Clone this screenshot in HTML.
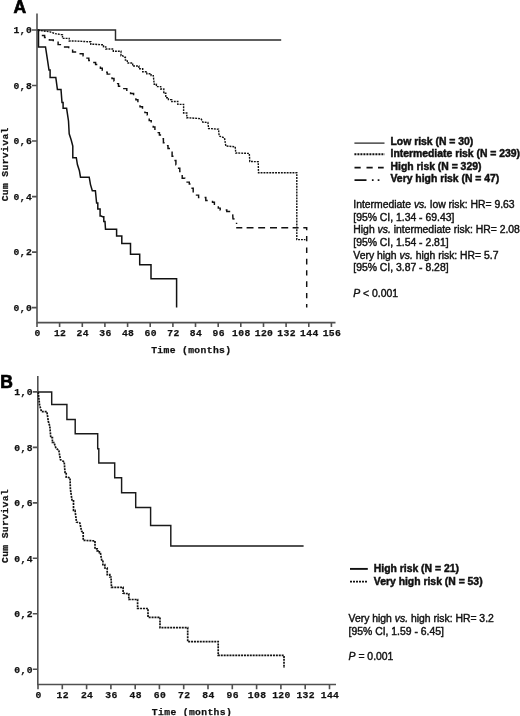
<!DOCTYPE html>
<html><head><meta charset="utf-8"><title>Figure</title>
<style>
html,body{margin:0;padding:0;background:#fff}
svg{display:block}
text{fill:#111}
.mono text{font-family:"Liberation Mono","DejaVu Sans Mono",monospace;font-weight:bold;font-size:9.7px;letter-spacing:0.36px}
.bold text{font-family:"Liberation Sans",Arial,sans-serif;font-weight:bold;font-size:10px}
.reg text{font-family:"Liberation Sans",Arial,sans-serif;font-size:10px}
.it{font-style:italic}
.lbl{font-family:"Liberation Sans",Arial,sans-serif;font-weight:bold;font-size:17.5px;fill:#000;stroke:#000;stroke-width:0.7px}
.bold text{stroke:#111;stroke-width:0.45px}
.reg text{stroke:#111;stroke-width:0.4px}
.mono text{stroke:#111;stroke-width:0.25px}
</style></head><body>
<svg width="520" height="716" viewBox="0 0 520 716">
<rect width="520" height="716" fill="#fff"/>
<g stroke="#505050" stroke-width="1.6" fill="none">
<path d="M37.0 13.6V322.6H335.5"/>
<path d="M32.0 30.0H37.0M32.0 85.5H37.0M32.0 141.0H37.0M32.0 196.6H37.0M32.0 252.1H37.0M32.0 307.6H37.0M37.0 322.6V327.1M59.6 322.6V327.1M82.3 322.6V327.1M104.9 322.6V327.1M127.6 322.6V327.1M150.2 322.6V327.1M172.9 322.6V327.1M195.5 322.6V327.1M218.2 322.6V327.1M240.8 322.6V327.1M263.5 322.6V327.1M286.1 322.6V327.1M308.8 322.6V327.1M331.4 322.6V327.1"/>
</g>
<g class="mono">
<text x="32.1" y="33.2" text-anchor="end">1,0</text>
<text x="32.1" y="88.7" text-anchor="end">0,8</text>
<text x="32.1" y="144.2" text-anchor="end">0,6</text>
<text x="32.1" y="199.8" text-anchor="end">0,4</text>
<text x="32.1" y="255.3" text-anchor="end">0,2</text>
<text x="32.1" y="310.8" text-anchor="end">0,0</text>
<text x="37.5" y="336.1" text-anchor="middle">0</text>
<text x="60.1" y="336.1" text-anchor="middle">12</text>
<text x="82.8" y="336.1" text-anchor="middle">24</text>
<text x="105.4" y="336.1" text-anchor="middle">36</text>
<text x="128.1" y="336.1" text-anchor="middle">48</text>
<text x="150.8" y="336.1" text-anchor="middle">60</text>
<text x="173.4" y="336.1" text-anchor="middle">72</text>
<text x="196.0" y="336.1" text-anchor="middle">84</text>
<text x="218.7" y="336.1" text-anchor="middle">96</text>
<text x="241.3" y="336.1" text-anchor="middle">108</text>
<text x="264.0" y="336.1" text-anchor="middle">120</text>
<text x="286.6" y="336.1" text-anchor="middle">132</text>
<text x="309.3" y="336.1" text-anchor="middle">144</text>
<text x="331.9" y="336.1" text-anchor="middle">156</text>
</g>
<g class="mono">
<text transform="translate(7.5,164.3) rotate(-90)" text-anchor="middle">Cum Survival</text>
<text x="191.3" y="353.3" text-anchor="middle">Time (months)</text>
</g>
<g fill="none" stroke="#111" stroke-linejoin="miter">
<polyline stroke-width="1.45" stroke="#2a2a2a" points="37.5,30.0 115.5,30.0 115.5,40.0 281.2,40.0"/>
<polyline stroke-width="1.5" points="37.5,30.0 38.5,30.0 38.5,47.0 45.5,47.0 47.4,59.4 49.0,70.0 50.1,70.0 50.1,77.5 51.2,77.5 55.8,77.5 57.4,89.4 61.0,89.4 62.0,102.5 63.1,102.5 63.1,108.3 64.3,108.3 66.6,108.3 68.5,121.0 69.2,133.8 71.2,140.0 72.8,146.0 72.8,157.7 76.3,157.7 77.4,164.6 79.4,170.8 80.5,177.2 89.2,177.2 90.5,184.6 92.3,190.8 95.4,190.8 96.6,203.0 97.8,203.0 97.8,209.0 99.0,209.0 100.1,209.0 100.1,216.0 101.2,216.0 102.6,216.7 103.8,216.7 103.8,221.5 105.0,221.5 105.5,229.2 116.6,229.2 116.6,236.0 121.8,236.0 121.8,243.6 130.5,243.6 130.5,254.2 139.7,254.2 139.7,264.8 151.0,264.8 151.0,278.8 176.6,278.8 176.6,307.5"/>
<polyline stroke-width="1.4" stroke-dasharray="1.9 1.0" points="38.0,30.2 49.5,31.7 55.2,33.6 61.0,34.6 62.5,34.6 62.5,38.4 63.9,38.4 69.2,38.4 69.2,41.0 74.5,41.0 88.0,41.7 90.8,41.7 90.8,44.2 93.7,44.2 102.3,44.8 103.5,44.8 103.5,46.9 105.8,46.9 105.8,49.0 107.0,49.0 113.3,49.0 113.3,51.2 119.6,51.2 121.0,51.2 121.0,55.7 122.5,55.7 124.4,57.3 125.4,57.3 125.4,60.1 127.3,60.1 127.3,63.0 128.3,63.0 132.7,63.0 132.7,66.0 137.0,66.0 138.9,66.0 138.9,68.8 142.7,68.8 142.7,71.7 144.6,71.7 146.8,71.7 146.8,73.7 151.1,73.7 151.1,75.6 153.3,75.6 154.2,84.2 156.4,84.2 156.4,86.6 160.7,86.6 160.7,89.0 162.9,89.0 163.8,89.0 163.8,93.3 165.8,93.3 165.8,97.7 166.7,97.7 168.4,97.7 168.4,99.6 171.8,99.6 171.8,101.5 173.5,101.5 177.8,101.5 177.8,104.4 182.1,104.4 183.6,104.4 183.6,113.0 185.0,113.0 186.8,113.0 186.8,117.8 188.6,117.8 201.0,118.7 202.9,122.2 207.9,122.5 208.6,128.5 218.5,129.2 219.2,136.0 224.5,137.9 225.8,146.0 235.2,146.8 235.8,153.0 249.3,153.4 249.8,161.5 258.2,161.7 258.5,172.7 296.8,172.7 296.8,239.6 305.4,239.6"/>
<polyline stroke-width="1.45" stroke-dasharray="6 5.2" stroke-dashoffset="0" points="41.8,35.5 44.6,35.5 44.6,37.5 47.5,37.5 49.4,37.5 49.4,39.9 53.3,39.9 53.3,42.3 55.2,42.3 58.1,42.3 58.1,44.6 63.9,44.6 63.9,47.0 66.8,47.0 68.7,47.0 68.7,49.5 72.6,49.5 72.6,51.9 74.5,51.9 77.4,51.9 77.4,53.8 83.1,53.8 83.1,55.7 86.0,55.7 87.0,55.7 87.0,58.1 88.8,58.1 88.8,60.5 89.8,60.5 91.7,60.5 91.7,62.5 95.6,62.5 95.6,64.4 97.5,64.4 98.5,64.4 98.5,66.3 100.4,66.3 100.4,68.3 102.3,68.3 102.3,70.2 103.3,70.2 104.6,70.2 104.6,72.1 107.2,72.1 107.2,74.1 109.7,74.1 109.7,76.0 111.0,76.0 112.0,76.0 112.0,78.5 112.9,78.5 114.0,78.5 114.0,81.1 116.2,81.1 116.2,83.6 118.5,83.6 118.5,86.2 119.6,86.2 122.0,86.2 122.0,88.6 126.8,88.6 126.8,91.0 129.2,91.0 130.6,91.0 130.6,93.4 133.6,93.4 133.6,95.8 135.0,95.8 135.9,95.8 135.9,99.7 137.9,99.7 137.9,103.5 138.8,103.5 140.0,103.5 140.0,106.8 142.5,106.8 142.5,110.2 143.7,110.2 144.9,110.2 144.9,112.6 147.3,112.6 147.3,115.0 148.5,115.0 149.2,115.0 149.2,120.6 150.0,120.6 151.2,120.6 151.2,123.7 152.3,123.7 153.2,123.7 153.2,126.9 154.9,126.9 154.9,130.2 155.8,130.2 157.0,130.2 157.0,132.6 159.4,132.6 159.4,135.0 160.6,135.0 161.6,135.0 161.6,138.8 163.4,138.8 163.4,142.7 164.4,142.7 165.6,142.7 165.6,145.6 168.0,145.6 168.0,148.5 169.2,148.5 170.1,148.5 170.1,152.3 172.1,152.3 172.1,156.2 173.0,156.2 174.0,156.2 174.0,160.5 175.9,160.5 175.9,164.8 176.9,164.8 177.9,164.8 177.9,168.2 179.8,168.2 179.8,171.5 180.8,171.5 182.2,171.5 182.2,178.3 183.7,178.3 184.8,178.3 184.8,180.2 187.1,180.2 187.1,182.1 189.3,182.1 189.3,184.0 190.4,184.0 191.3,184.0 191.3,188.3 193.2,188.3 193.2,192.7 194.2,192.7 195.6,192.7 195.6,195.1 198.6,195.1 198.6,197.5 200.0,197.5 205.8,197.5 205.8,200.4 211.5,200.4 212.5,200.4 212.5,202.3 214.4,202.3 214.4,204.2 215.4,204.2 216.4,204.2 216.4,206.1 218.3,206.1 218.3,208.1 220.2,208.1 220.2,210.0 221.2,210.0 226.8,210.0 226.8,211.5 232.5,211.5 233.0,218.8 236.3,219.4 236.6,224.0"/>
<path stroke-width="1.45" d="M236.2 227.7H242.3M246.6 227.7H253.5M258.2 227.7H265.1M270 227.7H277M281.3 227.7H288.2M292.6 227.7H298.6M303.3 227.7H306.7V230.3M306.7 236V241.2M306.7 247.6V253M306.7 258.7V264.5M306.7 270.3V275.6M306.7 281.3V287.1M306.7 292.9V298.2M306.7 303.9V307.4"/>
</g>
<g stroke="#505050" stroke-width="1.6" fill="none">
<path d="M37.8 376V684.5H336"/>
<path d="M32.8 391.9H37.8M32.8 447.4H37.8M32.8 502.9H37.8M32.8 558.3H37.8M32.8 613.8H37.8M32.8 669.3H37.8M38.0 684.5V689.3M62.3 684.5V689.3M86.6 684.5V689.3M110.9 684.5V689.3M135.2 684.5V689.3M159.4 684.5V689.3M183.7 684.5V689.3M208.0 684.5V689.3M232.3 684.5V689.3M256.6 684.5V689.3M280.9 684.5V689.3M305.2 684.5V689.3M329.5 684.5V689.3"/>
</g>
<g class="mono">
<text x="32.9" y="395.1" text-anchor="end">1,0</text>
<text x="32.9" y="450.6" text-anchor="end">0,8</text>
<text x="32.9" y="506.1" text-anchor="end">0,6</text>
<text x="32.9" y="561.5" text-anchor="end">0,4</text>
<text x="32.9" y="617.0" text-anchor="end">0,2</text>
<text x="32.9" y="672.5" text-anchor="end">0,0</text>
<text x="38.5" y="698.4" text-anchor="middle">0</text>
<text x="62.8" y="698.4" text-anchor="middle">12</text>
<text x="87.1" y="698.4" text-anchor="middle">24</text>
<text x="111.4" y="698.4" text-anchor="middle">36</text>
<text x="135.7" y="698.4" text-anchor="middle">48</text>
<text x="159.9" y="698.4" text-anchor="middle">60</text>
<text x="184.2" y="698.4" text-anchor="middle">72</text>
<text x="208.5" y="698.4" text-anchor="middle">84</text>
<text x="232.8" y="698.4" text-anchor="middle">96</text>
<text x="257.1" y="698.4" text-anchor="middle">108</text>
<text x="281.4" y="698.4" text-anchor="middle">120</text>
<text x="305.7" y="698.4" text-anchor="middle">132</text>
<text x="330.0" y="698.4" text-anchor="middle">144</text>
</g>
<g class="mono">
<text transform="translate(7.5,526) rotate(-90)" text-anchor="middle">Cum Survival</text>
<text x="192" y="715.2" text-anchor="middle">Time (months)</text>
</g>
<g fill="none" stroke="#111" stroke-linejoin="miter">
<polyline stroke-width="1.45" stroke="#1a1a1a" points="38.0,391.9 51.7,391.9 51.7,404.4 66.9,404.4 66.9,419.4 75.2,419.4 75.2,433.8 97.7,433.8 97.7,448.8 98.8,448.8 98.8,463.0 114.7,463.0 114.7,477.8 121.6,477.8 121.6,492.7 135.7,492.7 135.7,507.5 150.6,507.5 150.6,525.5 170.8,525.5 170.8,546.0 303.6,546.0"/>
<polyline stroke-width="1.7" stroke-dasharray="2 0.9" points="38.2,392.0 39.6,405.0 41.5,411.7 46.9,411.7 48.3,421.3 49.8,426.2 50.8,437.7 52.4,437.7 52.4,442.5 54.0,442.5 56.0,448.3 58.8,450.2 60.4,459.8 64.2,461.7 65.0,472.3 66.2,472.3 66.2,477.1 67.5,477.1 70.0,478.0 70.4,489.2 72.1,500.8 73.5,500.8 73.5,510.4 75.0,510.4 76.5,522.0 79.8,522.9 81.7,531.5 83.2,531.5 83.2,540.4 84.6,540.4 93.8,540.8 95.0,540.8 95.0,548.8 96.2,548.8 97.2,548.8 97.2,550.8 99.4,550.8 99.4,552.7 100.4,552.7 101.9,561.3 102.9,561.3 102.9,564.6 104.8,564.6 104.8,568.0 105.8,568.0 107.2,568.0 107.2,574.6 108.5,574.6 109.8,574.6 109.8,577.0 111.0,577.0 111.5,587.3 123.1,587.3 123.1,593.2 128.8,593.8 128.8,599.5 137.6,599.5 137.6,608.5 148.0,608.5 148.0,617.3 160.0,617.3 160.0,627.7 187.7,627.7 187.7,641.6 218.2,641.6 218.2,655.4 284.0,655.4 284.0,668.0"/>
</g>
<text class="lbl" x="13.5" y="13.3">A</text>
<text class="lbl" x="0.3" y="388">B</text>
<g fill="none" stroke="#111">
<path d="M354.4 143.1H384.5" stroke-width="1.15"/>
<path d="M354.4 154.3H384.7" stroke-width="1.9" stroke-dasharray="2 1"/>
<path d="M354.5 167.6H360.7M366.5 167.6H372.7M378 167.6H383.7" stroke-width="1.7"/>
<path d="M354.5 180.1H366.5M371.9 180.1H373.6M377.7 180.1H379.4" stroke-width="1.9"/>
<path d="M350 568.9H367.8" stroke-width="1.9"/>
<path d="M350 581.6H368" stroke-width="1.8" stroke-dasharray="2 1"/>
</g>
<g class="bold">
<text transform="translate(390.5,145.1) scale(1.04,1)">Low risk (N = 30)</text>
<text transform="translate(390.5,157.3) scale(1.04,1)">Intermediate risk (N = 239)</text>
<text transform="translate(390.5,169.5) scale(1.04,1)">High risk (N = 329)</text>
<text transform="translate(390.5,181.7) scale(1.04,1)">Very high risk (N = 47)</text>
<text transform="translate(373.8,572.0) scale(1.04,1)">High risk (N = 21)</text>
<text transform="translate(373.8,585.1) scale(1.04,1)">Very high risk (N = 53)</text>
</g>
<g class="reg">
<text transform="translate(353.3,207.8) scale(1.04,1)">Intermediate <tspan class="it">vs.</tspan> low risk: HR= 9.63</text>
<text transform="translate(353.3,220.5) scale(1.04,1)">[95% CI, 1.34 - 69.43]</text>
<text transform="translate(353.3,233.2) scale(1.04,1)">High <tspan class="it">vs.</tspan> intermediate risk: HR= 2.08</text>
<text transform="translate(353.3,245.9) scale(1.04,1)">[95% CI, 1.54 - 2.81]</text>
<text transform="translate(353.3,258.6) scale(1.04,1)">Very high <tspan class="it">vs.</tspan> high risk: HR= 5.7</text>
<text transform="translate(353.3,271.3) scale(1.04,1)">[95% CI, 3.87 - 8.28]</text>
<text transform="translate(353.3,296.6) scale(1.04,1)"><tspan class="it">P</tspan> &lt; 0.001</text>
<text transform="translate(348.6,622) scale(1.04,1)">Very high <tspan class="it">vs.</tspan> high risk: HR= 3.2</text>
<text transform="translate(348.6,634.6) scale(1.04,1)">[95% CI, 1.59 - 6.45]</text>
<text transform="translate(348.6,659.5) scale(1.04,1)"><tspan class="it">P</tspan> = 0.001</text>
</g>
</svg>
</body></html>
